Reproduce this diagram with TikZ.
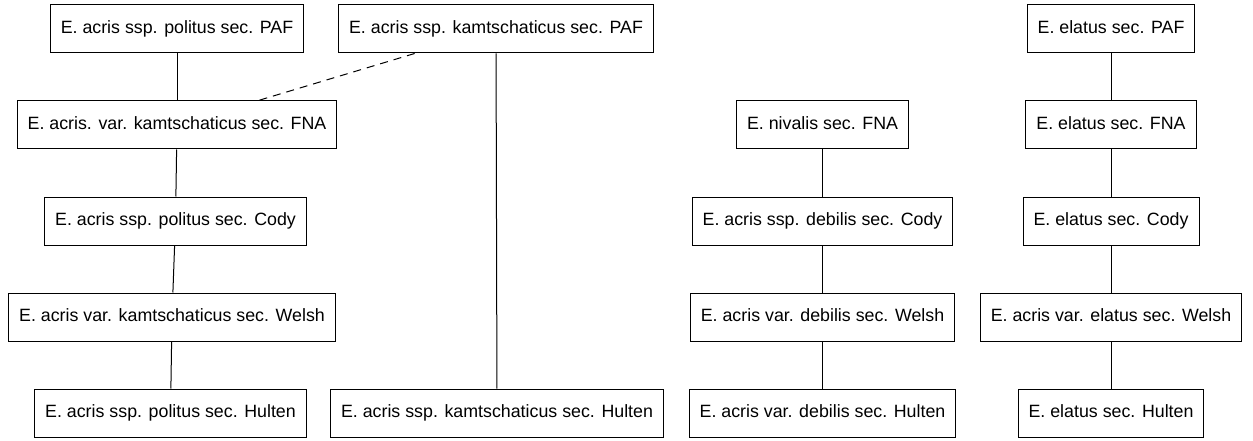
\documentclass[tikz,border=0pt]{standalone}
\usepackage{fontspec}
\setmainfont{Liberation Sans}
\begin{document}
\begin{tikzpicture}[x=1pt,y=-1pt,
  box/.style={draw, line width=1pt, inner xsep=10.5pt, inner ysep=0pt, minimum height=48pt, font=\fontsize{17.8}{20}\selectfont, text height=13pt, text depth=3.5pt},
  link/.style={line width=1pt}]
\useasboundingbox (0,0) rectangle (1253,441);
\node[box] (p1) at (177,29) {E. acris ssp. politus sec. PAF};
\node[box] (p2) at (496,29) {E. acris ssp. kamtschaticus sec. PAF};
\node[box] (p3) at (1111,29) {E. elatus sec. PAF};
\node[box] (f1) at (177,125) {E. acris. var. kamtschaticus sec. FNA};
\node[box] (f2) at (822.5,125) {E. nivalis sec. FNA};
\node[box] (f3) at (1111,125) {E. elatus sec. FNA};
\node[box] (c1) at (175.5,221) {E. acris ssp. politus sec. Cody};
\node[box] (c2) at (822.5,221) {E. acris ssp. debilis sec. Cody};
\node[box] (c3) at (1111,221) {E. elatus sec. Cody};
\node[box] (w1) at (172,317) {E. acris var. kamtschaticus sec. Welsh};
\node[box] (w2) at (822.5,317) {E. acris var. debilis sec. Welsh};
\node[box] (w3) at (1111,317) {E. acris var. elatus sec. Welsh};
\node[box] (h1) at (170.5,413) {E. acris ssp. politus sec. Hulten};
\node[box] (h2) at (497,413) {E. acris ssp. kamtschaticus sec. Hulten};
\node[box] (h3) at (822.5,413) {E. acris var. debilis sec. Hulten};
\node[box] (h4) at (1111,413) {E. elatus sec. Hulten};
\draw[link] (p1) -- (f1);
\draw[link, dash pattern=on 8pt off 6pt] (p2) -- (f1);
\draw[link] (p2) -- (h2);
\draw[link] (f1) -- (c1);
\draw[link] (c1) -- (w1);
\draw[link] (w1) -- (h1);
\draw[link] (f2) -- (c2);
\draw[link] (c2) -- (w2);
\draw[link] (w2) -- (h3);
\draw[link] (p3) -- (f3);
\draw[link] (f3) -- (c3);
\draw[link] (c3) -- (w3);
\draw[link] (w3) -- (h4);
\end{tikzpicture}
\end{document}
